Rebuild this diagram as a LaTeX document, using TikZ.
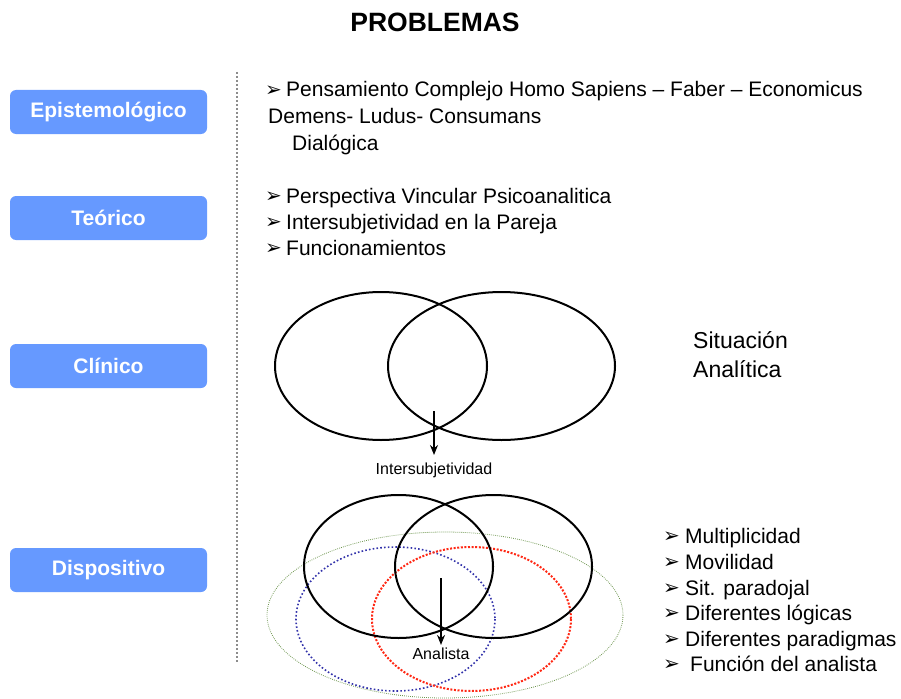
\documentclass[tikz,border=0pt]{standalone}
\usepackage{fontspec}
\setmainfont{Liberation Sans}
\newfontfamily\dvfont{DejaVu Sans}
\usetikzlibrary{arrows.meta}
\definecolor{boxblue}{RGB}{102,153,255}
\definecolor{sepgray}{RGB}{140,140,140}
\definecolor{dgreen}{RGB}{110,150,80}
\definecolor{dblue}{RGB}{50,50,170}
\definecolor{dred}{RGB}{255,40,20}
\newcommand{\bul}[1][21pt]{\makebox[#1][l]{\raisebox{0.5pt}{\dvfont\fontsize{20}{20}\selectfont ➢}}}
\begin{document}
\begin{tikzpicture}[x=1pt,y=-1pt,
  levelbox/.style={fill=boxblue, rounded corners=6pt, minimum width=197pt, minimum height=44pt, inner sep=0pt, text=white, font=\fontsize{21}{25}\selectfont\bfseries},
  bodytext/.style={anchor=base west, inner sep=0pt, font=\fontsize{21}{25}\selectfont},
  smalltext/.style={inner sep=0pt, font=\fontsize{16}{19}\selectfont},
  blackell/.style={draw=black, line width=2pt},
  arr/.style={-{Stealth[length=10pt,width=8pt]}, line width=1.5pt}
]
\useasboundingbox (0,0) rectangle (901,698);

\node[inner sep=0pt, font=\fontsize{26.5}{30}\selectfont\bfseries] (title) at (435,22) {PROBLEMAS};

\node[levelbox] (epi) at (108.5,112) {Epistemológico};
\node[levelbox] (teo) at (108.5,218) {Teórico};
\node[levelbox] (cli) at (108.5,366) {Clínico};
\node[levelbox] (dis) at (108.5,570) {Dispositivo};

\coordinate (sepTop) at (237,72);
\coordinate (sepBot) at (237,662);
\draw[sepgray, line width=2pt, dash pattern=on 2pt off 2pt] (sepTop) -- (sepBot);

% Epistemologico text
\node[bodytext] (e1) at (265,97) {\bul Pensamiento Complejo Homo Sapiens – Faber – Economicus};
\node[bodytext] (e2) at (268,123) {Demens- Ludus- Consumans};
\node[bodytext] (e3) at (292,150) {Dialógica};

% Teorico text
\node[bodytext] (t1) at (265,203) {\bul Perspectiva Vincular Psicoanalitica};
\node[bodytext] (t2) at (265,229) {\bul Intersubjetividad en la Pareja};
\node[bodytext] (t3) at (265,255) {\bul Funcionamientos};

% Clinico ellipses
\draw[blackell] (381,366) ellipse [x radius=106, y radius=74];
\draw[blackell] (501.5,366) ellipse [x radius=113.5, y radius=74];
\coordinate (c1) at (434,411);
\node[smalltext, anchor=north] (inter) at (434,463) {Intersubjetividad};
\draw[arr] (c1) -- ([yshift=8pt]inter.north);

\node[inner sep=0pt, anchor=base west, font=\fontsize{23}{29}\selectfont] (sit1) at (693,348) {Situación};
\node[inner sep=0pt, anchor=base west, font=\fontsize{23}{29}\selectfont] (sit2) at (693,377) {Analítica};

% Dispositivo ellipses
\draw[dgreen, line width=0.8pt, dash pattern=on 0.8pt off 1.2pt] (445,615) ellipse [x radius=178, y radius=83];
\draw[dblue, line width=1.6pt, dash pattern=on 1.6pt off 2.2pt] (395.5,619) ellipse [x radius=99.5, y radius=72];
\draw[dred, line width=2pt, dash pattern=on 2pt off 1.6pt] (471.5,619) ellipse [x radius=99.5, y radius=72];
\draw[blackell] (398.5,566.5) ellipse [x radius=94.5, y radius=71.5];
\draw[blackell] (493.5,566.5) ellipse [x radius=98.5, y radius=71.5];
\coordinate (c2) at (441,578);
\node[smalltext] (ana) at (441,654) {Analista};
\draw[arr] (c2) -- ([yshift=3pt]ana.north);

% Dispositivo list
\node[bodytext] (d1) at (663,543) {\bul[22pt]Multiplicidad};
\node[bodytext] (d2) at (663,569) {\bul[22pt]Movilidad};
\node[bodytext] (d3) at (663,595) {\bul[22pt]Sit. paradojal};
\node[bodytext] (d4) at (663,620) {\bul[22pt]Diferentes lógicas};
\node[bodytext] (d5) at (663,646) {\bul[22pt]Diferentes paradigmas};
\node[bodytext] (d6) at (663,671) {\bul[27pt]Función del analista};
\end{tikzpicture}
\end{document}
